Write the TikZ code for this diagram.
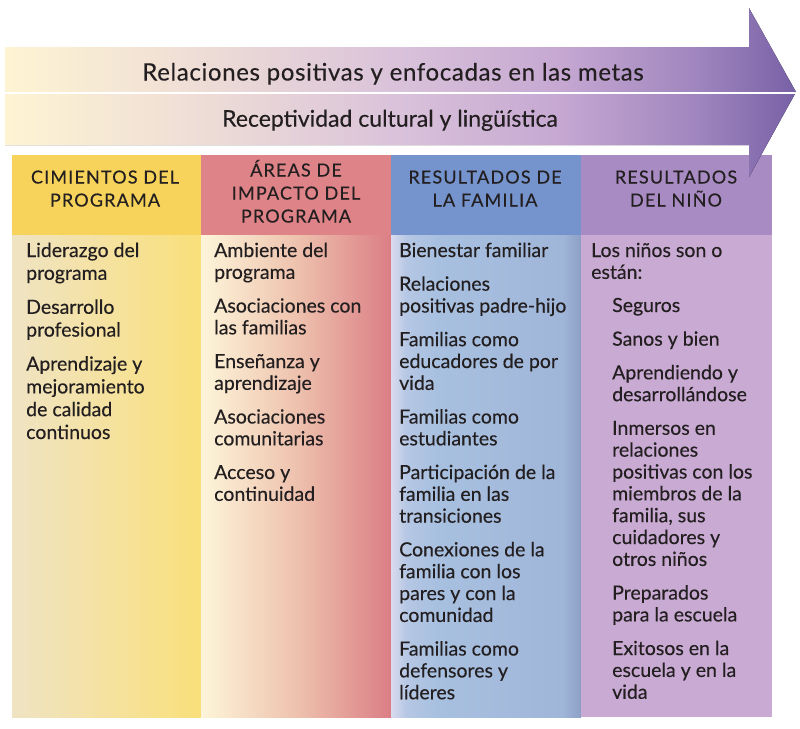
\documentclass[tikz,border=0pt]{standalone}
\usepackage{fontspec}
\setmainfont[FakeBold=0.3]{Lato}
\newfontfamily\hdrfont[LetterSpace=6.5,FakeBold=0.3]{Lato}
\newfontfamily\bandfont[LetterSpace=2.7,FakeBold=0.3]{Lato}
\definecolor{txt}{HTML}{231F20}
\definecolor{ar0}{HTML}{FEF4D3}
\definecolor{ar1}{HTML}{EEDDD6}
\definecolor{ar2}{HTML}{D9C2DA}
\definecolor{ar3}{HTML}{C6A8D2}
\definecolor{ar4}{HTML}{9F85BE}
\definecolor{ar5}{HTML}{7860A6}
\definecolor{hA}{HTML}{F7D35B}
\definecolor{hB}{HTML}{DE8387}
\definecolor{hC}{HTML}{7594CD}
\definecolor{hD}{HTML}{A88BC3}
\definecolor{bA0}{HTML}{EFE3C3}
\definecolor{bA1}{HTML}{F5E2A0}
\definecolor{bA2}{HTML}{F9E07A}
\definecolor{bB0}{HTML}{FDF5D9}
\definecolor{bB1}{HTML}{EEC2AE}
\definecolor{bB2}{HTML}{DB7E85}
\definecolor{bC0}{HTML}{DADAEE}
\definecolor{bC1}{HTML}{B5C7E4}
\definecolor{bC2}{HTML}{A8C0E0}
\definecolor{bC3}{HTML}{A0B6D9}
\definecolor{bC4}{HTML}{8D9FC6}
\definecolor{bD}{HTML}{C9AAD3}
\pgfdeclarehorizontalshading{arrowshade}{100bp}{color(0bp)=(ar0); color(25bp)=(ar0); color(37.3bp)=(ar1); color(49.9bp)=(ar2); color(60bp)=(ar3); color(68.9bp)=(ar4); color(75bp)=(ar5); color(100bp)=(ar5)}
\pgfdeclarehorizontalshading{shA}{100bp}{color(0bp)=(bA0); color(25bp)=(bA0); color(50bp)=(bA1); color(75bp)=(bA2); color(100bp)=(bA2)}
\pgfdeclarehorizontalshading{shB}{100bp}{color(0bp)=(bB0); color(25bp)=(bB0); color(50bp)=(bB1); color(75bp)=(bB2); color(100bp)=(bB2)}
\pgfdeclarehorizontalshading{shC}{100bp}{color(0bp)=(bC0); color(25bp)=(bC0); color(29bp)=(bC1); color(37bp)=(bC2); color(70bp)=(bC3); color(75bp)=(bC4); color(100bp)=(bC4)}
\tikzset{
  bodytext/.style={inner sep=0pt, anchor=base west, text=txt},
  headtext/.style={inner sep=0pt, anchor=base, text=txt},
  bandtext/.style={inner sep=0pt, anchor=base, text=txt},
}
\newcommand{\bodyblock}[1]{\parbox[t]{200pt}{\raggedright\fontsize{19.5}{21.85}\selectfont #1}}
\newcommand{\bodyblockA}[1]{\parbox[t]{200pt}{\raggedright\fontsize{19.5}{22.8}\selectfont #1}}
\newcommand{\headblock}[1]{\parbox[t]{185pt}{\centering\hdrfont\fontsize{18}{23}\selectfont #1}}
\newcommand{\igap}{\\[11.8pt]}
\newcommand{\igapA}{\\[11.2pt]}
\begin{document}
\begin{tikzpicture}[x=1pt,y=-1pt]
\useasboundingbox (0,0) rectangle (800,728);
% column headers
\fill[hA] (12,155) rectangle (201,235);
\fill[hB] (201,155) rectangle (391,235);
\fill[hC] (391,155) rectangle (581,235);
\fill[hD] (581,155) rectangle (772,235);
% column bodies
\fill[shading=shA] (12,235) rectangle (201,717);
\fill[shading=shB] (201,235) rectangle (391,717);
\fill[shading=shC] (391,235) rectangle (581,717);
\fill[bD] (581,235) rectangle (772,717);
% arrow
\fill[shading=arrowshade] (5,47) -- (749,47) -- (749,8) -- (796,92) -- (749,177) -- (749,145) -- (5,145) -- cycle;
\draw[white, line width=2.5pt] (5,93) -- (797,93);
\node[bandtext, font=\bandfont\fontsize{24}{26}\selectfont] (band1) at (393,80.5) {Relaciones positivas y enfocadas en las metas};
\node[bandtext, font=\fontsize{23}{26}\selectfont] (band2) at (390,126.7) {Receptividad cultural y lingüística};
% header texts
\node[headtext] (hdA) at (105,183.5) {\headblock{CIMIENTOS DEL\\PROGRAMA}};
\node[headtext] (hdB) at (296,176.5) {\headblock{ÁREAS DE\\IMPACTO DEL\\PROGRAMA}};
\node[headtext] (hdC) at (485,183.5) {\headblock{RESULTADOS DE\\LA FAMILIA}};
\node[headtext] (hdD) at (676,183.5) {\headblock{RESULTADOS\\DEL NIÑO}};
% body texts
\node[bodytext] (bdA) at (26,257) {\bodyblockA{Liderazgo del\\programa\igapA Desarrollo\\profesional\igapA Aprendizaje y\\mejoramiento\\de calidad\\continuos}};
\node[bodytext] (bdB) at (214,257) {\bodyblock{Ambiente del\\programa\igap Asociaciones con\\las familias\igap Enseñanza y\\aprendizaje\igap Asociaciones\\comunitarias\igap Acceso y\\continuidad}};
\node[bodytext] (bdC) at (399,257) {\bodyblock{Bienestar familiar\igap Relaciones\\positivas padre-hijo\igap Familias como\\educadores de por\\vida\igap Familias como\\estudiantes\igap Participación de la\\familia en las\\transiciones\igap Conexiones de la\\familia con los\\pares y con la\\comunidad\igap Familias como\\defensores y\\líderes}};
\node[bodytext] (bdD) at (591,257) {\bodyblock{Los niños son o\\están:}};
\node[bodytext] (bdDsub) at (612,312) {\bodyblock{Seguros\igap Sanos y bien\igap Aprendiendo y\\desarrollándose\igap Inmersos en\\relaciones\\positivas con los\\miembros de la\\familia, sus\\cuidadores y\\otros niños\igap Preparados\\para la escuela\igap Exitosos en la\\escuela y en la\\vida}};
\end{tikzpicture}
\end{document}
